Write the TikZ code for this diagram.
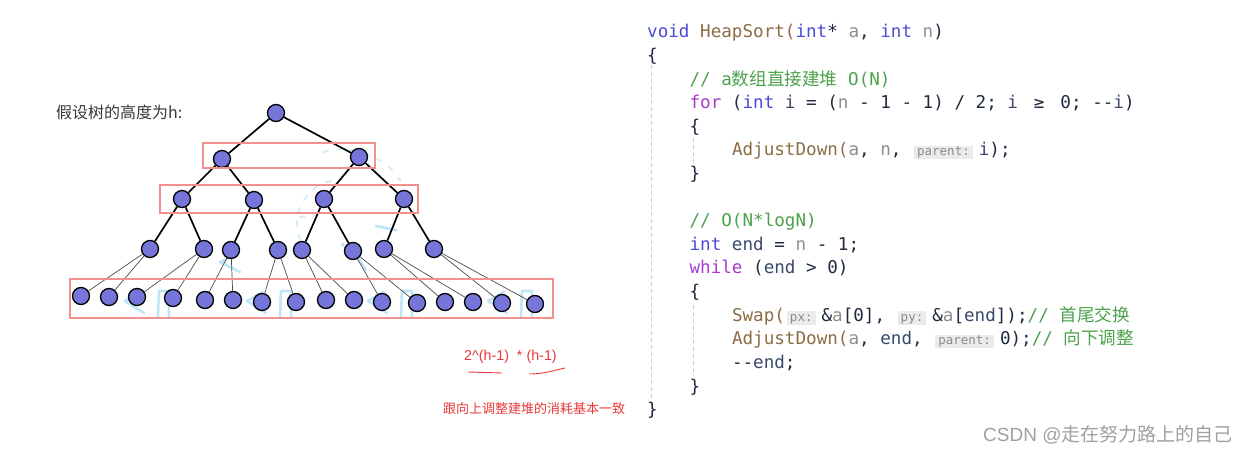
\documentclass[tikz,border=0pt]{standalone}
\usepackage{fontspec}
\setmainfont{Liberation Sans}
\newfontfamily\codefont{DejaVu Sans Mono}
\newfontfamily\cjkfont{Noto Sans CJK SC}
\definecolor{kw}{HTML}{4B4BDB}
\definecolor{ctl}{HTML}{A63CD0}
\definecolor{fn}{HTML}{8C6D45}
\definecolor{par}{HTML}{8E8E8E}
\definecolor{var}{HTML}{3A4A6B}
\definecolor{cmt}{HTML}{4CA24C}
\definecolor{codefg}{HTML}{1F2A40}
\definecolor{hintbg}{HTML}{EBEBEB}
\definecolor{hintfg}{HTML}{8A8A8A}
\definecolor{guidec}{HTML}{CCCCCC}
\definecolor{nodeblue}{HTML}{7676DA}
\definecolor{boxred}{HTML}{F29090}
\definecolor{txtred}{HTML}{E83A3A}
\definecolor{scrib}{HTML}{BEE6F8}
\definecolor{wmark}{HTML}{A0A0A0}
\newcommand\ckw[1]{\textcolor{kw}{#1}}
\newcommand\cctl[1]{\textcolor{ctl}{#1}}
\newcommand\cfn[1]{\textcolor{fn}{#1}}
\newcommand\cpar[1]{\textcolor{par}{#1}}
\newcommand\cvar[1]{\textcolor{var}{#1}}
\newcommand\ccmt[1]{\textcolor{cmt}{#1}}
\newcommand\ccjk[1]{{\cjkfont #1}}
\newcommand\dd{-\kern0pt-}
\newcommand\cge{\makebox[21.2pt]{≥}}
\newcommand\chint[1]{\hspace{2pt}{\setlength{\fboxsep}{0pt}\colorbox{hintbg}{\hspace{3pt}\raisebox{0pt}[10pt][3.5pt]{\fontsize{12.5}{13}\codefont\color{hintfg}#1}\hspace{3pt}}}\hspace{6pt}}
\begin{document}
\begin{tikzpicture}[x=1pt,y=-1pt,
  tn/.style={circle,fill=nodeblue,draw=black,line width=1.3pt,minimum size=17pt,inner sep=0pt},
  up/.style={draw=black,line width=1.7pt},
  lo/.style={draw=black!70,line width=0.7pt},
  redbox/.style={draw=boxred,line width=1.1pt},
  code/.style={anchor=base west,inner sep=0pt,font=\fontsize{17.6}{20}\codefont,text=codefg},
  guide/.style={draw=guidec,line width=1pt,dash pattern=on 4pt off 3pt},
  scr/.style={draw=scrib,line width=2.6pt,line cap=round,line join=round},
  scrl/.style={draw=scrib!70,line width=1.8pt,line cap=round,dash pattern=on 5pt off 9pt}]
\useasboundingbox (0,0) rectangle (1247,454);
\fill[white] (0,0) rectangle (1247,454);

% scribbles
\foreach \o in {0,122,243,363}{
  \draw[scr] (\o+141,292) -- (\o+125,301) -- (\o+144,313);
  \draw[scr] (\o+158,316) -- (\o+159,291) -- (\o+169,291) -- (\o+169,316);
}
\draw[scr] (238,254) -- (220,262) -- (240,272);
\draw[scr] (342,244) -- (357,256) -- (366,270);
\draw[scr] (376,226) -- (396,230);
\draw[scrl] (323,152) .. controls (370,140) and (415,175) .. (405,215);
\draw[scrl] (300,240) .. controls (290,215) and (305,185) .. (335,180);
\draw[scrl] (300,217) -- (330,213);

% tree nodes
\node[tn] (r) at (276,113) {};
\node[tn] (a1) at (222,159) {};
\node[tn] (a2) at (359,157) {};
\node[tn] (b1) at (182,199) {};
\node[tn] (b2) at (254,200) {};
\node[tn] (b3) at (324,199) {};
\node[tn] (b4) at (404,199) {};
\node[tn] (c1) at (150,249) {};
\node[tn] (c2) at (204,249) {};
\node[tn] (c3) at (231,250) {};
\node[tn] (c4) at (278,250) {};
\node[tn] (c5) at (302,250) {};
\node[tn] (c6) at (353,251) {};
\node[tn] (c7) at (384,249) {};
\node[tn] (c8) at (434,249) {};
\foreach \i/\x/\y in {1/81/296,2/109/297,3/137/297,4/173/298,5/205/300,6/233/300,7/262/302,8/296/302,9/326/300,10/354/300,11/382/302,12/417/303,13/445/302,14/473/302,15/502/303,16/535/304}
  \node[tn] (d\i) at (\x,\y) {};

% edges
\draw[up] (r) -- (a1); \draw[up] (r) -- (a2);
\draw[up] (a1) -- (b1); \draw[up] (a1) -- (b2);
\draw[up] (a2) -- (b3); \draw[up] (a2) -- (b4);
\draw[up] (b1) -- (c1); \draw[up] (b1) -- (c2);
\draw[up] (b2) -- (c3); \draw[up] (b2) -- (c4);
\draw[up] (b3) -- (c5); \draw[up] (b3) -- (c6);
\draw[up] (b4) -- (c7); \draw[up] (b4) -- (c8);
\foreach \p/\l/\m in {1/1/2,2/3/4,3/5/6,4/7/8,5/9/10,6/11/12,7/13/14,8/15/16}{
  \draw[lo] (c\p) -- (d\l);
  \draw[lo] (c\p) -- (d\m);
}

% red boxes
\draw[redbox] (203,143) rectangle (375,168);
\draw[redbox] (160,185) rectangle (418,213);
\draw[redbox] (70,279) rectangle (553,318);

% left texts
\node[anchor=west,inner sep=0pt,text=black!78,font=\fontsize{16}{17}\cjkfont] (ttl) at (56,112) {假设树的高度为h:};
\node[anchor=west,inner sep=0pt,text=txtred,font=\fontsize{14.3}{15}\selectfont] (frm) at (464,357) {2\^{}(h-1)\ \ * (h-1)};
\coordinate (u1a) at (468,372); \coordinate (u1b) at (502,373);
\coordinate (u2a) at (529,374); \coordinate (u2b) at (565,368);
\draw[txtred,line width=0.9pt] (u1a) -- (u1b);
\draw[txtred,line width=0.9pt] (u2a) .. controls (545,374) and (555,370) .. (u2b);
\node[anchor=west,inner sep=0pt,text=txtred,font=\fontsize{13}{14}\cjkfont] (note) at (443,409) {跟向上调整建堆的消耗基本一致};

% guides
\coordinate (g1a) at (651,65); \coordinate (g1b) at (651,418);
\coordinate (g2a) at (693,138); \coordinate (g2b) at (693,168);
\coordinate (g3a) at (693,305); \coordinate (g3b) at (693,376);
\draw[guide] (g1a) -- (g1b);
\draw[guide] (g2a) -- (g2b);
\draw[guide] (g3a) -- (g3b);

% code
\node[code] (l1) at (647,38) {\ckw{void} \cfn{HeapSort(}\ckw{int}* \cpar{a}, \ckw{int} \cpar{n})};
\node[code] (l2) at (647,61.6) {\{};
\node[code] (l3) at (689.4,85.2) {\ccmt{// a\ccjk{数组直接建堆} O(N)}};
\node[code] (l4) at (689.4,108.8) {\cctl{for} (\ckw{int} \cvar{i} = (\cpar{n} - 1 - 1) / 2; \cvar{i} \cge{} 0; \dd\cvar{i})};
\node[code] (l5) at (689.4,132.4) {\{};
\node[code] (l6) at (731.8,156) {\cfn{AdjustDown(}\cpar{a}, \cpar{n}, \chint{parent:}\cvar{i});};
\node[code] (l7) at (689.4,179.6) {\}};
\node[code] (l9) at (689.4,226.8) {\ccmt{// O(N*logN)}};
\node[code] (l10) at (689.4,250.4) {\ckw{int} \cvar{end} = \cpar{n} - 1;};
\node[code] (l11) at (689.4,274) {\cctl{while} (\cvar{end} > 0)};
\node[code] (l12) at (689.4,297.6) {\{};
\node[code] (l13) at (731.8,321.2) {\cfn{Swap(}\chint{px:}\&\cpar{a}[0], \chint{py:}\&\cpar{a}[\cvar{end}]);\ccmt{// \ccjk{首尾交换}}};
\node[code] (l14) at (731.8,344.8) {\cfn{AdjustDown(}\cpar{a}, \cvar{end}, \chint{parent:}0);\ccmt{// \ccjk{向下调整}}};
\node[code] (l15) at (731.8,368.4) {\dd\cvar{end};};
\node[code] (l16) at (689.4,392) {\}};
\node[code] (l17) at (647,415.6) {\}};

% watermark
\node[anchor=west,inner sep=0pt,text=wmark,font=\fontsize{19}{20}\selectfont] (wm) at (983,435) {CSDN @\ccjk{走在努力路上的自己}};
\end{tikzpicture}
\end{document}
